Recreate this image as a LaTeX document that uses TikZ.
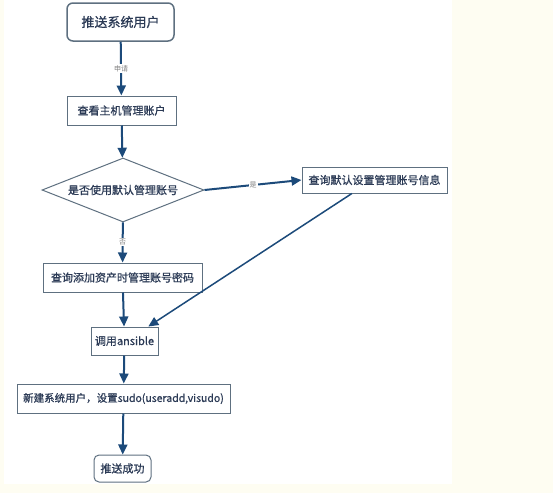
\documentclass[tikz,border=0pt]{standalone}
\usepackage{fontspec}
\setmainfont{Noto Sans CJK SC}
\newfontfamily\boxfont{Noto Sans CJK SC}[FakeBold=0.8]
\usetikzlibrary{shapes.geometric, arrows.meta, calc}
\definecolor{flowblue}{HTML}{1C4A7A}
\definecolor{boxline}{HTML}{5E7080}
\definecolor{boxtext}{HTML}{2B3A55}
\definecolor{pagecream}{HTML}{FEFDF2}

\tikzset{
  stepbox/.style={draw=boxline, line width=1pt, fill=white, text=boxtext, font=\boxfont\fontsize{11}{12}\selectfont, inner sep=0pt},
  flow/.style={draw=flowblue, line width=2pt, -{Triangle[length=10pt,width=9pt]}},
  lbl/.style={fill=white, text=gray, font=\fontsize{7}{8}\selectfont, inner sep=1pt}
}

\begin{document}
\begin{tikzpicture}[x=1pt, y=-1pt]
    \useasboundingbox (0,0) rectangle (553,493);
    \fill [pagecream] (0,0) rectangle (553,493);
    \fill [white] (4,0) rectangle (452,484);

    \node (start) at (120.5,22) [stepbox, rounded corners=6pt, line width=1.5pt, minimum width=107pt, minimum height=38pt, font=\boxfont\fontsize{13}{14}\selectfont] {推送系统用户};
    \node (view) at (121.5,110.5) [stepbox, minimum width=109pt, minimum height=29pt] {查看主机管理账户};
    \node (ask) at (123,190) [stepbox, diamond, aspect=2.5, minimum width=162pt, minimum height=64pt] {是否使用默认管理账号};
    \node (default) at (374.5,180) [stepbox, minimum width=145pt, minimum height=26pt] {查询默认设置管理账号信息};
    \node (query) at (122.5,277.5) [stepbox, minimum width=159pt, minimum height=29pt] {查询添加资产时管理账号密码};
    \node (ansible) at (124.5,341) [stepbox, minimum width=67pt, minimum height=28pt] {调用ansible};
    \node (create) at (123.5,398.5) [stepbox, minimum width=213pt, minimum height=29pt, font=\boxfont\fontsize{10.5}{12}\selectfont] {新建系统用户，设置sudo(useradd,visudo)};
    \node (done) at (122.5,468.5) [stepbox, rounded corners=5pt, minimum width=57pt, minimum height=27pt] {推送成功};

    \draw [flow] (start) -- node [lbl] {申请} (view);
    \draw [flow] (view) -- (ask);
    \draw [flow] (ask.east) -- node [lbl] {是} (default.west);
    \draw [flow] (ask) -- node [lbl] {否} (query);
    \draw [flow] (query) -- (ansible);
    \draw [flow, line width=1.5pt] ($(default.south west)!0.345!(default.south east)$) -- ($(ansible.north)!0.7!(ansible.north east)$);
    \draw [flow] (ansible) -- (create);
    \draw [flow] (create) -- (done);
\end{tikzpicture}
\end{document}
